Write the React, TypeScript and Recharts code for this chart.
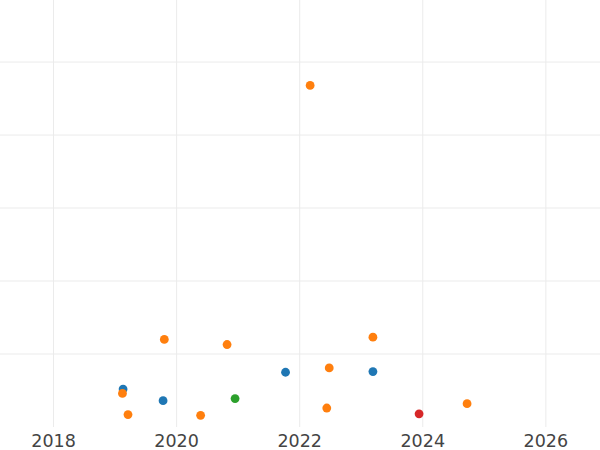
import { ScatterChart, Scatter, XAxis, YAxis, CartesianGrid } from "recharts";

const yearTicks = [2018, 2020, 2022, 2024, 2026];
const valueTicks = [10, 20, 30, 40, 50];

const blueYears = [2019.13, 2019.78, 2021.77, 2023.19];
const blueValues = [5.2, 3.6, 7.5, 7.6];

const orangeYears = [2019.12, 2019.21, 2019.8, 2020.39, 2020.82, 2022.17, 2022.44, 2022.48, 2023.19, 2024.72];
const orangeValues = [4.6, 1.7, 12.0, 1.6, 11.3, 46.8, 2.6, 8.1, 12.3, 3.2];

const greenYears = [2020.95];
const greenValues = [3.9];

const redYears = [2023.94];
const redValues = [1.8];

const toPoints = (xs: number[], ys: number[]) => xs.map((x, i) => ({ year: x, value: ys[i] }));

const series = [
  { name: "blue", color: "#1f77b4", data: toPoints(blueYears, blueValues) },
  { name: "orange", color: "#ff7f0e", data: toPoints(orangeYears, orangeValues) },
  { name: "green", color: "#2ca02c", data: toPoints(greenYears, greenValues) },
  { name: "red", color: "#d62728", data: toPoints(redYears, redValues) },
];

const Dot = (props: any) => {
  const { cx, cy, fill } = props;
  return <circle cx={cx} cy={cy} r={4.4} fill={fill} />;
};

export default function App() {
  return (
    <div style={{ position: "absolute", left: 0, top: 0, width: 600, height: 450, background: "#fff" }}>
      <ScatterChart width={600} height={450} margin={{ top: 0, right: 0, left: 0, bottom: 0 }}>
        <CartesianGrid stroke="#ebebeb" strokeWidth={1} syncWithTicks />
        <XAxis
          type="number"
          dataKey="year"
          domain={[2017.13, 2026.88]}
          ticks={yearTicks}
          axisLine={false}
          tickLine={false}
          height={23}
          allowDataOverflow
          tick={{ fontSize: 17.5, fill: "#444", fontFamily: "DejaVu Sans" }}
        />
        <YAxis type="number" dataKey="value" domain={[0, 58.5]} ticks={valueTicks} hide allowDataOverflow />
        {series.map((s) => (
          <Scatter key={s.name} data={s.data} fill={s.color} shape={<Dot />} isAnimationActive={false} />
        ))}
      </ScatterChart>
    </div>
  );
}
